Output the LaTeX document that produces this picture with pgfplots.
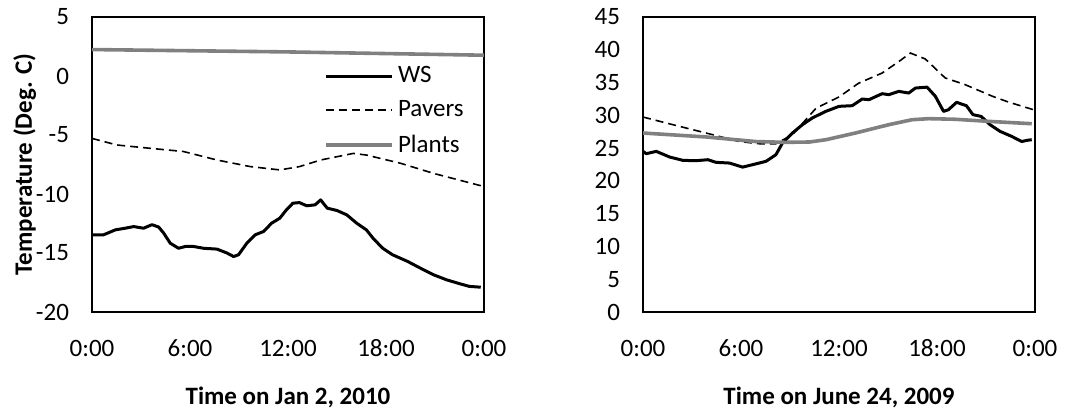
\documentclass[border=0pt]{standalone}
\usepackage{pgfplots}
\pgfplotsset{compat=1.18}
\usepackage{fontspec}
\setmainfont{Carlito}
\definecolor{plantgray}{RGB}{128,128,128}

\pgfplotsset{
  panel/.style={
    scale only axis,
    width=196pt, height=147.5pt,
    xmin=0, xmax=24,
    xtick={0,6,12,18,24},
    xticklabels={0:00,6:00,12:00,18:00,0:00},
    major tick length=0pt,
    axis line style={black, line width=0.85pt},
    tick label style={font=\fontsize{12.5}{15}\selectfont},
    xticklabel style={yshift=-11pt, text height=1.6ex, text depth=0.2ex},
    yticklabel style={xshift=-8pt},
    label style={font=\bfseries\fontsize{12.5}{15}\selectfont},
    xlabel style={at={(0.5,0)}, anchor=base, yshift=-46.5pt},
    /pgf/number format/assume math mode=true,
  },
  wsline/.style={black, line width=1.5pt, line join=round},
  pavline/.style={black, line width=0.8pt, dash pattern=on 4pt off 2.5pt},
  plaline/.style={plantgray, line width=1.8pt},
}

\begin{document}
\begin{tikzpicture}
\useasboundingbox (0,0) rectangle (541.5pt,205pt);

\begin{axis}[panel, at={(46pt,49pt)}, anchor=south west,
  ymin=-20, ymax=5, ytick={-20,-15,...,5},
  xlabel={Time on Jan 2, 2010},
  ylabel={Temperature (Deg. C)},
  ylabel shift=-7pt,
  legend style={draw=none, fill=none, at={(0.592,0.847)}, anchor=north west,
    font=\fontsize{12.5}{15}\selectfont, row sep=3.5pt, inner sep=0pt},
  legend cell align=left,
  legend image code/.code={\draw[#1] (0pt,0pt) -- (33pt,0pt);},
]
\addplot[wsline] coordinates {
(0,-13.46) (0.71,-13.46) (1.43,-13.04) (2.04,-12.9) (2.55,-12.76) (3.16,-12.9)
(3.67,-12.6) (4.08,-12.8) (4.38,-13.3) (4.79,-14.17) (5.3,-14.6) (5.71,-14.45)
(6.22,-14.45) (6.83,-14.6) (7.65,-14.67) (8.26,-15.0) (8.67,-15.3) (8.97,-15.15)
(9.48,-14.17) (9.99,-13.46) (10.5,-13.18) (11.0,-12.47) (11.5,-12.05) (11.9,-11.35)
(12.3,-10.78) (12.7,-10.73) (13.15,-11.0) (13.66,-10.92) (14.0,-10.5) (14.4,-11.2)
(15.0,-11.4) (15.6,-11.77) (16.2,-12.47) (16.8,-13.04) (17.2,-13.74) (17.8,-14.6)
(18.4,-15.15) (19.3,-15.7) (20.1,-16.28) (20.9,-16.84) (21.7,-17.27) (22.5,-17.6)
(23.1,-17.83) (23.8,-17.9)
};
\addlegendentry{WS}
\addplot[pavline] coordinates {
(0,-5.29) (1.53,-5.85) (3.57,-6.13) (5.6,-6.4) (7.65,-7.12) (9.7,-7.68)
(11.5,-7.96) (12.7,-7.68) (14.0,-7.12) (16.0,-6.56) (16.8,-6.7) (18.9,-7.4)
(20.9,-8.25) (24,-9.37)
};
\addlegendentry{Pavers}
\addplot[plaline] coordinates {
(0,2.24) (12,2.04) (24,1.76)
};
\addlegendentry{Plants}
\end{axis}

\begin{axis}[panel, at={(321.5pt,49pt)}, anchor=south west,
  ymin=0, ymax=45, ytick={0,5,...,45},
  xlabel={Time on June 24, 2009},
]
\addplot[wsline] coordinates {
(0,24.5) (0.2,24.15) (0.81,24.5) (1.63,23.64) (2.44,23.13) (3.25,23.08)
(3.97,23.23) (4.47,22.83) (5.29,22.72) (6.1,22.1) (6.71,22.47) (7.53,22.98)
(8.14,24.0) (8.54,25.78) (9.15,27.3) (9.76,28.57) (10.37,29.6) (11.19,30.6)
(12.0,31.37) (12.81,31.47) (13.42,32.49) (13.83,32.38) (14.64,33.3) (15.05,33.15)
(15.66,33.65) (16.27,33.4) (16.68,34.16) (17.39,34.3) (17.9,32.9) (18.4,30.6)
(18.7,30.86) (19.2,31.98) (19.8,31.47) (20.2,30.1) (20.7,29.84) (21.25,28.57)
(21.86,27.55) (22.57,26.79) (23.19,26.0) (23.5,26.18) (23.8,26.28)
};
\addplot[pavline] coordinates {
(0,29.74) (1.83,28.57) (3.86,27.3) (5.9,26.0) (7.12,25.67) (8.14,25.67)
(9.15,27.05) (10.6,31.1) (12.0,32.8) (13.2,34.9) (14.64,36.45) (15.66,38.2)
(16.37,39.5) (17.28,38.6) (18.5,35.7) (19.7,34.7) (21.4,32.9) (22.4,32.0)
(23.9,30.86)
};
\addplot[plaline] coordinates {
(0,27.3) (3.86,26.7) (6.9,26.0) (8.7,25.88) (10.2,25.93) (11.2,26.28)
(13.0,27.3) (15.05,28.57) (16.47,29.33) (17.5,29.49) (19.1,29.4) (21.15,29.08)
(23.8,28.72)
};
\end{axis}
\end{tikzpicture}
\end{document}
